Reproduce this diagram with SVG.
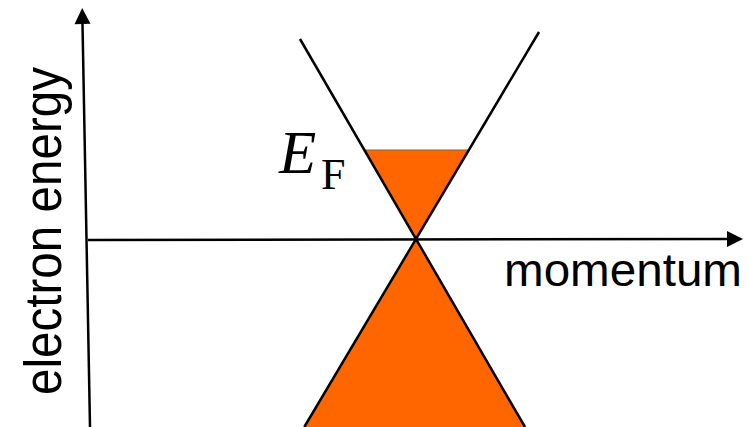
<svg xmlns="http://www.w3.org/2000/svg" width="749" height="427" viewBox="0 0 749 427">
  <defs>
    <marker id="arrow" markerUnits="userSpaceOnUse" markerWidth="16" markerHeight="16" refX="0" refY="8" orient="auto" overflow="visible">
      <path d="M0,0 L16,8 L0,16 z" fill="#000"/>
    </marker>
  </defs>
  <style>
    .axis { stroke:#000; stroke-width:2.5; fill:none; }
    .band { stroke:#000; stroke-width:2.5; fill:none; }
    .fill { fill:#FF6600; stroke:none; }
    .lbl { font-family:"Liberation Sans", Arial, sans-serif; fill:#000; }
    .math { font-family:"Liberation Serif", "Times New Roman", serif; fill:#000; }
  </style>
  <rect width="749" height="427" fill="#fff"/>
  <g id="fills">
    <polygon class="fill" points="364.5,150 469,150 416,239"/>
    <line x1="364.5" y1="150" x2="469" y2="150" stroke="#7a6a3a" stroke-width="1"/>
    <polygon class="fill" points="416,239 304.3,427 525,427"/>
  </g>
  <g id="connectors">
    <line id="x-axis" class="axis" x1="88" y1="240" x2="727" y2="239" marker-end="url(#arrow)"/>
    <line id="y-axis" class="axis" x1="90" y1="427" x2="82.5" y2="24" marker-end="url(#arrow)"/>
    <line id="band-left" class="band" x1="300" y1="39" x2="525" y2="427"/>
    <line id="band-right" class="band" x1="539" y1="32" x2="304.3" y2="427"/>
  </g>
  <g id="label-fermi">
    <text class="math" x="279" y="173" font-size="61" font-style="italic">E</text>
    <text class="math" x="321" y="189" font-size="44">F</text>
  </g>
  <g id="label-momentum">
    <text class="lbl" x="504" y="286" font-size="46" textLength="238" lengthAdjust="spacingAndGlyphs">momentum</text>
  </g>
  <g id="label-energy">
    <text class="lbl" transform="translate(61,395) rotate(-90)" x="0" y="0" font-size="51" textLength="328" lengthAdjust="spacingAndGlyphs">electron energy</text>
  </g>
</svg>
